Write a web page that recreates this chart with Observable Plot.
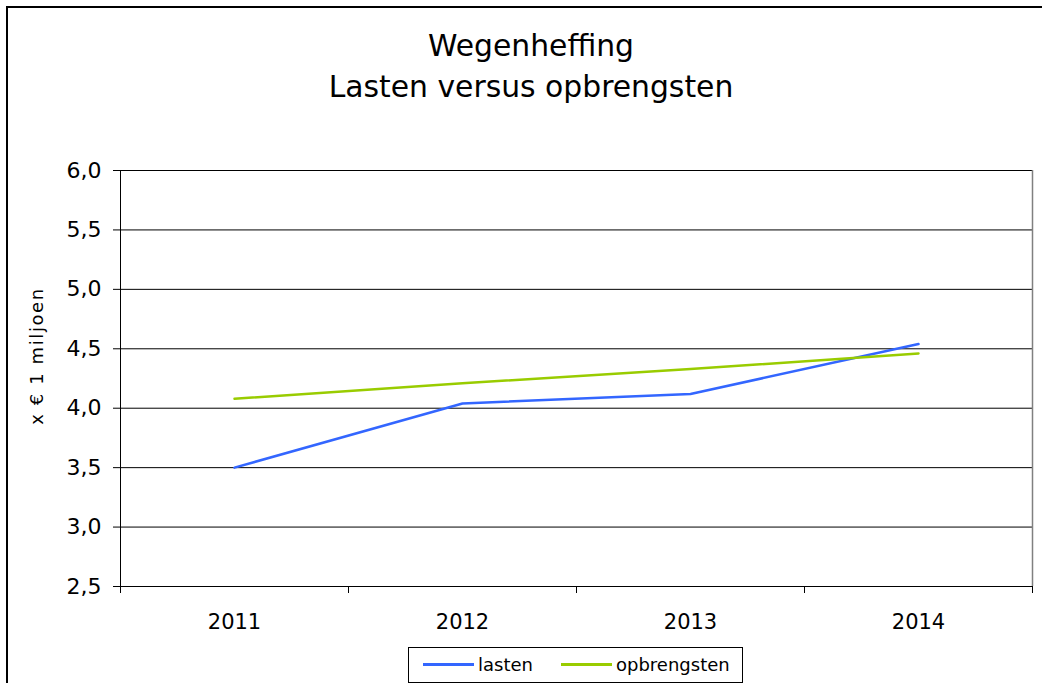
<!DOCTYPE html>
<html>
<head>
<meta charset="utf-8">
<script src="https://cdn.jsdelivr.net/npm/d3@7"></script>
<script src="https://cdn.jsdelivr.net/npm/@observablehq/plot@0.6"></script>
<style>
  html, body { margin: 0; padding: 0; background: #fff; }
  #wrap { position: relative; width: 1042px; height: 683px; overflow: hidden; background: #fff; }
  #border { position: absolute; left: 6px; top: 6px; width: 1200px; height: 900px; border-left: 2px solid #000; border-top: 2px solid #000; box-sizing: border-box; }
  #title { position: absolute; left: 0; width: 1062px; top: 25px; text-align: center; font-family: "DejaVu Sans", sans-serif; font-size: 29.8px; line-height: 41px; color: #000; }
  #plot { position: absolute; left: 0; top: 0; }
  #ylabel { position: absolute; left: 36px; top: 356px; transform: translate(-50%, -50%) rotate(-90deg); font-family: "DejaVu Sans", sans-serif; font-size: 18px; letter-spacing: 1.6px; white-space: nowrap; color: #000; }
  #legend { position: absolute; left: 408px; top: 647px; width: 335px; height: 36px; border: 1px solid #000; box-sizing: border-box; font-family: "DejaVu Sans", sans-serif; font-size: 18px; color: #000; }
  .item { position: absolute; top: 0; height: 34px; line-height: 34px; white-space: nowrap; }
  .swatch { display: inline-block; width: 51px; height: 0; border-top: 3px solid; vertical-align: middle; margin-right: 4px; position: relative; top: -2px; }
</style>
</head>
<body>
<div id="wrap">
  <div id="border"></div>
  <div id="title">Wegenheffing<br>Lasten versus opbrengsten</div>
  <div id="plot"></div>
  <div id="ylabel">x € 1 miljoen</div>
  <div id="legend"></div>
</div>
<script>
const years = [2011, 2012, 2013, 2014];
const lasten = [3.50, 4.04, 4.12, 4.54];
const opbrengsten = [4.08, 4.21, 4.33, 4.46];
const seriesNames = ["lasten", "opbrengsten"];
const seriesColors = ["#3366ff", "#99cc00"];
const yTicks = [2.5, 3.0, 3.5, 4.0, 4.5, 5.0, 5.5, 6.0];
const yearBounds = [2010.5, 2011.5, 2012.5, 2013.5, 2014.5];

const rows = [];
years.forEach((yr, i) => {
  rows.push({year: yr, value: lasten[i], series: "lasten"});
  rows.push({year: yr, value: opbrengsten[i], series: "opbrengsten"});
});

const chart = Plot.plot({
  width: 1042,
  height: 683,
  marginLeft: 120,
  marginRight: 10,
  marginTop: 170,
  marginBottom: 97,
  style: {fontFamily: "DejaVu Sans", fontSize: "21px", color: "#000", background: "transparent"},
  x: {domain: [2010.5, 2014.5], axis: null},
  y: {domain: [2.5, 6.0], axis: null},
  color: {domain: seriesNames, range: seriesColors},
  marks: [
    Plot.ruleY(yTicks, {stroke: "#000", strokeWidth: 1}),
    Plot.ruleX([yearBounds[yearBounds.length - 1]], {stroke: "#808080", strokeWidth: 1.5}),
    Plot.ruleX([yearBounds[0]], {stroke: "#000", strokeWidth: 1}),
    Plot.axisY({ticks: yTicks, tickSize: 7, tickPadding: 12, tickFormat: d => d.toFixed(1).replace(".", ","), label: null, fontSize: 22}),
    Plot.axisX({ticks: yearBounds, tickSize: 7, tickFormat: () => "", label: null}),
    Plot.axisX({ticks: years, tickSize: 0, tickPadding: 28, tickFormat: d => String(d), label: null, fontSize: 21}),
    Plot.line(rows, {x: "year", y: "value", z: "series", stroke: "series", strokeWidth: 2.5})
  ]
});
document.getElementById("plot").appendChild(chart);

const legend = document.getElementById("legend");
const lefts = [14, 152];
seriesNames.forEach((name, i) => {
  const it = document.createElement("div");
  it.className = "item";
  it.style.left = lefts[i] + "px";
  it.innerHTML = `<span class="swatch" style="border-color:${seriesColors[i]}"></span>${name}`;
  legend.appendChild(it);
});
</script>
</body>
</html>
